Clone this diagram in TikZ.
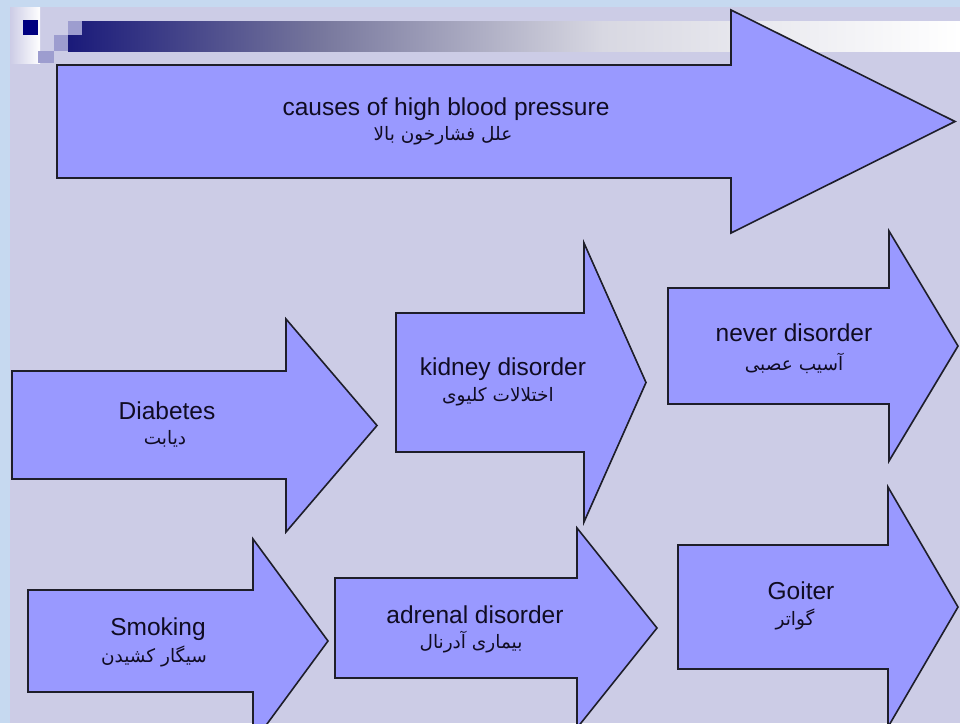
\documentclass[tikz,border=0pt]{standalone}
\usepackage{fontspec}
\setmainfont{Liberation Sans}
\newfontfamily\farsi[Script=Arabic]{DejaVu Sans}
\TeXXeTstate=1
\definecolor{framecol}{RGB}{198,217,240}
\definecolor{slidebg}{RGB}{204,204,230}
\definecolor{arrowfill}{RGB}{153,153,255}
\definecolor{arrowline}{RGB}{30,30,42}
\definecolor{navysq}{RGB}{0,0,128}
\definecolor{lilacsq}{RGB}{157,157,207}
\definecolor{barA}{RGB}{26,26,122}
\definecolor{barB}{RGB}{118,118,156}
\definecolor{barC}{RGB}{216,216,226}
\definecolor{textcol}{RGB}{16,12,34}
\pgfdeclarehorizontalshading{titlebar}{100bp}{color(0bp)=(barA); color(25bp)=(barA); color(39bp)=(barB); color(55bp)=(barC); color(75bp)=(white); color(100bp)=(white)}
% block arrow: left, body top, body bottom, head base x, head top, head bottom, tip x
\newcommand\blockarrow[7]{%
  \draw[arrowshape] (#1,#2) -- (#4,#2) -- (#4,#5) -- (#7,{(#5+#6)/2})
    -- (#4,#6) -- (#4,#3) -- (#1,#3) -- cycle;}
\begin{document}
\begin{tikzpicture}[x=1pt,y=-1pt,
  arrowshape/.style={fill=arrowfill, draw=arrowline, line width=1.6pt, line join=miter},
  entext/.style={anchor=base, inner sep=0pt, text=textcol, font=\fontsize{24.5}{28}\selectfont},
  fatext/.style={anchor=base, inner sep=0pt, text=textcol, font=\farsi\fontsize{18.5}{22}\selectfont}]
\useasboundingbox (0,0) rectangle (960,723);
\fill[framecol] (0,0) rectangle (960,723);
\fill[slidebg] (10,7) rectangle (960,723);
\clip (0,0) rectangle (960,723);

% header ornament
\shade[left color=slidebg, right color=white] (10,7) rectangle (40,63);
\shade[shading=titlebar] (68,21) rectangle (960,51);
\fill[navysq] (23,20) rectangle (38,35);
\fill[lilacsq] (68,21) rectangle (82,35);
\fill[lilacsq] (54,35) rectangle (68,51);
\fill[lilacsq] (38,51) rectangle (54,63);

% arrows
\blockarrow{57}{65}{178}{731}{10}{233}{955}
\blockarrow{12}{371}{479}{286}{319}{532}{377}
\blockarrow{396}{313}{452}{584}{243}{522}{646}
\blockarrow{668}{288}{404}{889}{231}{461}{958}
\blockarrow{28}{590}{692}{253}{539}{743}{328}
\blockarrow{335}{578}{678}{577}{528}{728}{657}
\blockarrow{678}{545}{669}{888}{487}{727}{958}

% labels
\node[entext] (tmain) at (446,115) {causes of high blood pressure};
\node[fatext] (tmainfa) at (443,140) {\beginR علل فشارخون بالا\endR};
\node[entext] (tdiab) at (167,419) {Diabetes};
\node[fatext] (tdiabfa) at (165,444) {\beginR دیابت\endR};
\node[entext] (tkid) at (503,375) {kidney disorder};
\node[fatext] (tkidfa) at (498,401) {\beginR اختلالات کلیوی\endR};
\node[entext] (tnerve) at (794,341) {never disorder};
\node[fatext] (tnervefa) at (794,370) {\beginR آسیب عصبی\endR};
\node[entext] (tsmoke) at (158,635) {Smoking};
\node[fatext] (tsmokefa) at (154,662) {\beginR سیگار کشیدن\endR};
\node[entext] (tadr) at (475,623) {adrenal disorder};
\node[fatext] (tadrfa) at (471,648) {\beginR بیماری آدرنال\endR};
\node[entext] (tgoit) at (801,599) {Goiter};
\node[fatext] (tgoitfa) at (795,625) {\beginR گواتر\endR};
\end{tikzpicture}
\end{document}
